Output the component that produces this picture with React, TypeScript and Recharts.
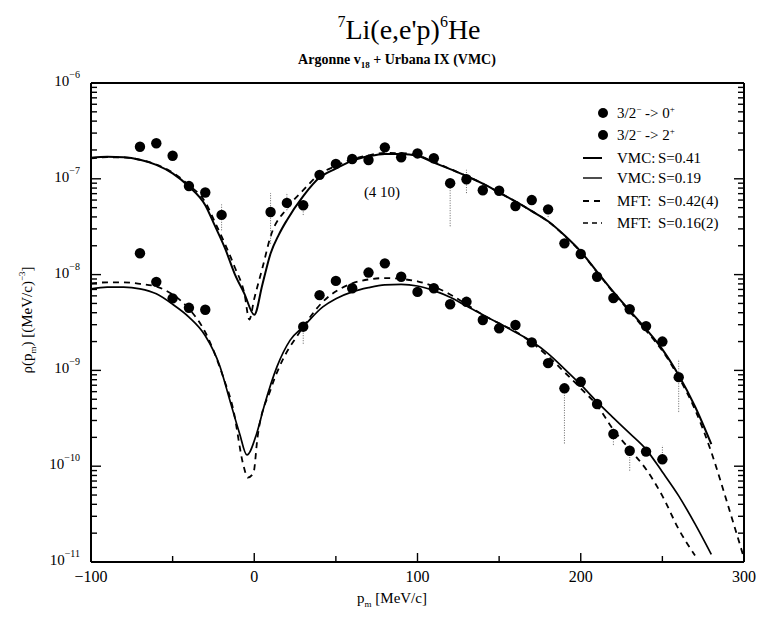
import React from 'react';
import { ComposedChart, Line, Scatter, XAxis, YAxis, ErrorBar, Legend } from 'recharts';

const W = 757;
const H = 617;
const FONT = '"Liberation Serif", "Times New Roman", serif';

// measured points, 3/2- -> 0+
const p0X = [-70, -60, -50, -40, -30, -20, 10, 20, 30, 40, 50, 60, 70, 80, 90, 100, 110, 120, 130, 140, 150, 160, 170, 180, 190, 200, 210, 220, 230, 240, 250, 260];
const p0Y = [2.16e-7, 2.35e-7, 1.74e-7, 8.4e-8, 7.2e-8, 4.2e-8, 4.5e-8, 5.6e-8, 5.3e-8, 1.1e-7, 1.43e-7, 1.61e-7, 1.57e-7, 2.13e-7, 1.68e-7, 1.84e-7, 1.64e-7, 9.0e-8, 9.9e-8, 7.6e-8, 7.5e-8, 5.2e-8, 6.0e-8, 4.8e-8, 2.12e-8, 1.64e-8, 9.5e-9, 5.7e-9, 4.35e-9, 2.9e-9, 2.0e-9, 8.5e-10];
// [x, lower error, upper error]
const p0Err: [number, number, number][] = [
  [-20, 1.3e-8, 1.2e-8], [10, 2.4e-8, 2.6e-8], [20, 0.9e-8, 1.5e-8], [30, 1.1e-8, 0.6e-8],
  [120, 5.8e-8, 1.0e-8], [130, 2.8e-8, 2.5e-8], [180, 0.8e-8, 0.4e-8], [260, 4.8e-10, 4.3e-10],
];

// measured points, 3/2- -> 2+
const p2X = [-70, -60, -50, -40, -30, 30, 40, 50, 60, 70, 80, 90, 100, 110, 120, 130, 140, 150, 160, 170, 180, 190, 200, 210, 220, 230, 240, 250];
const p2Y = [1.67e-8, 8.4e-9, 5.65e-9, 4.5e-9, 4.3e-9, 2.86e-9, 6.1e-9, 8.6e-9, 7.2e-9, 1.05e-8, 1.31e-8, 9.5e-9, 6.6e-9, 7.2e-9, 4.9e-9, 5.2e-9, 3.36e-9, 2.75e-9, 2.98e-9, 1.96e-9, 1.19e-9, 6.5e-10, 7.6e-10, 4.46e-10, 2.17e-10, 1.45e-10, 1.42e-10, 1.18e-10];
const p2Err: [number, number, number][] = [
  [30, 0.96e-9, 0.3e-9], [190, 4.77e-10, 0.5e-10], [220, 0.5e-10, 0.3e-10],
  [230, 0.55e-10, 0.2e-10], [250, 0.1e-10, 0.45e-10],
];

// theory curves [p_m, rho]
const vmc41: [number, number][] = [
  [-100, 1.66e-7], [-90, 1.7e-7], [-80, 1.68e-7], [-70, 1.58e-7], [-60, 1.4e-7], [-50, 1.14e-7], [-40, 8.3e-8],
  [-30, 5.3e-8], [-24, 3.2e-8], [-18, 1.9e-8], [-12, 1.02e-8], [-6, 6.3e-9], [0, 3.8e-9], [5, 7.9e-9], [10, 1.66e-8],
  [15, 2.6e-8], [20, 3.7e-8], [30, 6.6e-8], [40, 1.03e-7], [50, 1.28e-7], [60, 1.55e-7], [70, 1.72e-7], [80, 1.82e-7],
  [90, 1.82e-7], [100, 1.74e-7], [110, 1.48e-7], [120, 1.26e-7], [130, 1.07e-7], [140, 8.9e-8], [150, 7.2e-8],
  [160, 5.8e-8], [170, 4.6e-8], [180, 3.6e-8], [190, 2.57e-8], [200, 1.74e-8], [210, 1.07e-8], [220, 6.6e-9],
  [230, 4.2e-9], [240, 2.7e-9], [250, 1.66e-9], [260, 8.9e-10], [270, 4.2e-10], [280, 1.7e-10],
];
const vmc19: [number, number][] = [
  [-100, 7.1e-9], [-90, 7.4e-9], [-80, 7.4e-9], [-70, 7.1e-9], [-60, 6.3e-9], [-50, 4.9e-9], [-40, 3.6e-9],
  [-30, 2.3e-9], [-21, 1.1e-9], [-15, 4.9e-10], [-9, 2.2e-10], [-4.5, 1.31e-10], [1.5, 2.2e-10], [6, 4.2e-10],
  [14, 1.1e-9], [22, 2.07e-9], [30, 2.86e-9], [42, 4.6e-9], [50, 5.6e-9], [60, 6.6e-9], [70, 7.3e-9], [80, 7.8e-9],
  [90, 7.9e-9], [100, 7.6e-9], [110, 6.8e-9], [120, 5.8e-9], [130, 4.7e-9], [140, 3.8e-9], [150, 3.1e-9],
  [160, 2.5e-9], [170, 2.0e-9], [180, 1.5e-9], [190, 1.04e-9], [200, 7.1e-10], [210, 4.7e-10], [220, 3.2e-10],
  [230, 2.2e-10], [240, 1.5e-10], [250, 8.7e-11], [260, 4.9e-11], [270, 2.5e-11], [280, 1.2e-11],
];
const mft42: [number, number][] = [
  [-100, 1.63e-7], [-90, 1.68e-7], [-80, 1.67e-7], [-70, 1.58e-7], [-60, 1.41e-7], [-50, 1.16e-7], [-40, 8.6e-8],
  [-30, 5.7e-8], [-24, 3.5e-8], [-18, 2.1e-8], [-12, 1.2e-8], [-6, 6.3e-9], [-3, 3.4e-9], [0, 5.6e-9], [5, 1.17e-8],
  [10, 2.5e-8], [20, 4.9e-8], [30, 7.6e-8], [40, 1.12e-7], [50, 1.36e-7], [60, 1.6e-7], [70, 1.76e-7], [80, 1.86e-7],
  [90, 1.85e-7], [100, 1.76e-7], [110, 1.5e-7], [120, 1.27e-7], [130, 1.07e-7], [140, 8.9e-8], [150, 7.2e-8],
  [160, 5.8e-8], [170, 4.6e-8], [180, 3.6e-8], [190, 2.55e-8], [200, 1.72e-8], [210, 1.06e-8], [220, 6.5e-9],
  [230, 4.1e-9], [240, 2.6e-9], [250, 1.6e-9], [260, 8.5e-10], [270, 3.9e-10], [280, 1.4e-10], [290, 4.0e-11],
  [300, 1.1e-11],
];
const mft16: [number, number][] = [
  [-100, 8.1e-9], [-90, 8.3e-9], [-80, 8.3e-9], [-70, 8.0e-9], [-60, 7.5e-9], [-50, 6.2e-9], [-40, 4.4e-9],
  [-30, 2.5e-9], [-19, 8.5e-10], [-13, 4.0e-10], [-6.5, 1.0e-10], [-4, 7.6e-11], [-0.5, 8.5e-11], [2, 2.0e-10],
  [10, 6.3e-10], [18, 1.35e-9], [26, 2.25e-9], [42, 5.2e-9], [60, 8.1e-9], [70, 8.9e-9], [80, 9.2e-9], [90, 9.0e-9],
  [100, 8.5e-9], [110, 7.5e-9], [120, 6.2e-9], [130, 4.9e-9], [140, 3.8e-9], [150, 3.1e-9], [160, 2.55e-9],
  [170, 1.95e-9], [180, 1.4e-9], [190, 9.6e-10], [200, 6.5e-10], [210, 4.3e-10], [220, 2.4e-10], [230, 1.5e-10],
  [240, 9.3e-11], [250, 4.9e-11], [260, 2.2e-11], [270, 1.17e-11],
];

const xTicks = [-100, -50, 0, 50, 100, 150, 200, 250, 300];
const decades = [-11, -10, -9, -8, -7];
const yTicks: number[] = [];
decades.forEach((d) => {
  for (let m = 1; m <= 9; m++) yTicks.push(m * Math.pow(10, d));
});
yTicks.push(1e-6);

const toPts = (xs: number[], ys: number[], errs: [number, number, number][]) =>
  xs.map((x, i) => {
    const e = errs.find((r) => r[0] === x);
    return { x, y: ys[i], err: e ? [e[1], e[2]] : undefined };
  });
const toLine = (arr: [number, number][]) => arr.map(([x, y]) => ({ x, y }));

const pts0 = toPts(p0X, p0Y, p0Err);
const pts2 = toPts(p2X, p2Y, p2Err);

const tk = { stroke: '#000', strokeWidth: 1.4 };
const isMajor = (v: number) => {
  const l = Math.log10(v);
  return Math.abs(l - Math.round(l)) < 1e-6;
};
const fmtX = (v: number) => (v < 0 ? '\u2212' + Math.abs(v) : String(v));

const LeftTick = (p: any) => {
  const v = p.payload.value;
  const major = isMajor(v);
  const e = Math.round(Math.log10(v));
  return (
    <g>
      <line x1={p.x} x2={p.x + (major ? 10 : 6)} y1={p.y} y2={p.y} {...tk} />
      {major && (
        <text x={p.x - 11} y={p.y + 3} textAnchor="end" fontFamily={FONT} fontSize={15} fill="#000">
          10<tspan dy={-8} fontSize={10}>{'\u2212' + Math.abs(e)}</tspan>
        </text>
      )}
    </g>
  );
};
const RightTick = (p: any) => {
  const major = isMajor(p.payload.value);
  return <line x1={p.x} x2={p.x - (major ? 10 : 6)} y1={p.y} y2={p.y} {...tk} />;
};
const BottomTick = (p: any) => {
  const v = p.payload.value;
  const major = v % 100 === 0;
  return (
    <g>
      <line x1={p.x} x2={p.x} y1={p.y} y2={p.y - (major ? 9 : 6)} {...tk} />
      {major && (
        <text x={p.x} y={p.y + 20} textAnchor="middle" fontFamily={FONT} fontSize={16} fill="#000">
          {fmtX(v)}
        </text>
      )}
    </g>
  );
};
const TopTick = (p: any) => {
  const major = p.payload.value % 100 === 0;
  return <line x1={p.x} x2={p.x} y1={p.y} y2={p.y + (major ? 9 : 6)} {...tk} />;
};

const dot = (p: any) => <circle cx={p.cx} cy={p.cy} r={5.2} fill="#000" />;

const LegendBox = () => {
  const rowY = [15, 37, 60, 80, 103, 125];
  const tx = 42;
  const sx = 83;
  return (
    <svg width={175} height={135} style={{ display: 'block' }}>
      <g fontFamily={FONT} fontSize={15} fill="#000">
        <circle cx={28} cy={rowY[0]} r={5} fill="#000" />
        <text x={tx} y={rowY[0] + 5}>
          3/2<tspan dy={-6} fontSize={9}>{'\u2212'}</tspan>
          <tspan dy={6}>{' -> 0'}</tspan>
          <tspan dy={-6} fontSize={9}>+</tspan>
        </text>
        <circle cx={28} cy={rowY[1]} r={5} fill="#000" />
        <text x={tx} y={rowY[1] + 5}>
          3/2<tspan dy={-6} fontSize={9}>{'\u2212'}</tspan>
          <tspan dy={6}>{' -> 2'}</tspan>
          <tspan dy={-6} fontSize={9}>+</tspan>
        </text>
        <line x1={8} x2={27} y1={rowY[2]} y2={rowY[2]} stroke="#000" strokeWidth={2} />
        <text x={tx} y={rowY[2] + 5}>VMC:</text>
        <text x={sx} y={rowY[2] + 5}>S=0.41</text>
        <line x1={8} x2={27} y1={rowY[3]} y2={rowY[3]} stroke="#000" strokeWidth={1.4} />
        <text x={tx} y={rowY[3] + 5}>VMC:</text>
        <text x={sx} y={rowY[3] + 5}>S=0.19</text>
        <line x1={8} x2={27} y1={rowY[4]} y2={rowY[4]} stroke="#000" strokeWidth={1.8} strokeDasharray="6 5" />
        <text x={tx} y={rowY[4] + 5}>MFT:</text>
        <text x={sx} y={rowY[4] + 5}>S=0.42(4)</text>
        <line x1={8} x2={27} y1={rowY[5]} y2={rowY[5]} stroke="#000" strokeWidth={1.5} strokeDasharray="5 4" />
        <text x={tx} y={rowY[5] + 5}>MFT:</text>
        <text x={sx} y={rowY[5] + 5}>S=0.16(2)</text>
      </g>
    </svg>
  );
};

export default function App() {
  return (
    <div style={{ position: 'absolute', left: 0, top: 0, width: W, height: H, background: '#fff' }}>
      <ComposedChart width={W} height={H} margin={{ top: 82, right: 12, bottom: 5, left: 11 }}>
        <XAxis
          type="number"
          dataKey="x"
          domain={[-100, 300]}
          ticks={xTicks}
          interval={0}
          allowDataOverflow
          tick={(p: any) => <BottomTick {...p} />}
          tickLine={false}
          tickSize={0}
          tickMargin={0}
          height={50}
          axisLine={{ stroke: '#000', strokeWidth: 2 }}
        />
        <XAxis
          xAxisId="top"
          orientation="top"
          type="number"
          domain={[-100, 300]}
          ticks={xTicks}
          interval={0}
          allowDataOverflow
          tick={(p: any) => <TopTick {...p} />}
          tickLine={false}
          tickSize={0}
          tickMargin={0}
          height={1}
          axisLine={{ stroke: '#000', strokeWidth: 2 }}
        />
        <YAxis
          type="number"
          dataKey="y"
          scale="log"
          domain={[1e-11, 1e-6]}
          ticks={yTicks}
          interval={0}
          allowDataOverflow
          tick={(p: any) => <LeftTick {...p} />}
          tickLine={false}
          tickSize={0}
          tickMargin={0}
          width={80}
          axisLine={{ stroke: '#000', strokeWidth: 2 }}
        />
        <YAxis
          yAxisId="right"
          orientation="right"
          type="number"
          scale="log"
          domain={[1e-11, 1e-6]}
          ticks={yTicks}
          interval={0}
          allowDataOverflow
          tick={(p: any) => <RightTick {...p} />}
          tickLine={false}
          tickSize={0}
          tickMargin={0}
          width={1}
          axisLine={{ stroke: '#000', strokeWidth: 2 }}
        />
        <Legend
          layout="vertical"
          align="center"
          verticalAlign="middle"
          wrapperStyle={{ left: 575, top: 98, width: 175 }}
          content={() => <LegendBox />}
        />
        <Line data={toLine(vmc41)} dataKey="y" name="VMC: S=0.41" type="monotone" stroke="#000" strokeWidth={2} dot={false} isAnimationActive={false} />
        <Line data={toLine(vmc19)} dataKey="y" name="VMC: S=0.19" type="monotone" stroke="#000" strokeWidth={1.7} dot={false} isAnimationActive={false} />
        <Line data={toLine(mft42)} dataKey="y" name="MFT: S=0.42(4)" type="monotone" stroke="#000" strokeWidth={1.8} strokeDasharray="6 5" dot={false} isAnimationActive={false} />
        <Line data={toLine(mft16)} dataKey="y" name="MFT: S=0.16(2)" type="monotone" stroke="#000" strokeWidth={1.8} strokeDasharray="6 5" dot={false} isAnimationActive={false} />
        <Scatter data={pts0} dataKey="y" name="3/2- -> 0+" fill="#000" shape={dot} isAnimationActive={false}>
          <ErrorBar dataKey="err" direction="y" width={0} stroke="#666" strokeWidth={1} strokeDasharray="1 1.5" />
        </Scatter>
        <Scatter data={pts2} dataKey="y" name="3/2- -> 2+" fill="#000" shape={dot} isAnimationActive={false}>
          <ErrorBar dataKey="err" direction="y" width={0} stroke="#666" strokeWidth={1} strokeDasharray="1 1.5" />
        </Scatter>
      </ComposedChart>
      <svg width={W} height={H} style={{ position: 'absolute', left: 0, top: 0, pointerEvents: 'none' }}>
        <g fontFamily={FONT} fill="#000">
          <text x={409} y={39} textAnchor="middle" fontSize={28}>
            <tspan fontSize={16} dy={-12}>7</tspan>
            <tspan dy={12}>Li(e,e'p)</tspan>
            <tspan fontSize={16} dy={-12}>6</tspan>
            <tspan dy={12}>He</tspan>
          </text>
          <text x={397} y={64} textAnchor="middle" fontSize={14} fontWeight="bold">
            Argonne v<tspan fontSize={9} dy={4}>18</tspan>
            <tspan dy={-4}> + Urbana IX (VMC)</tspan>
          </text>
          <text x={382} y={197} textAnchor="middle" fontSize={15}>(4 10)</text>
          <text x={392} y={603} textAnchor="middle" fontSize={15}>
            p<tspan fontSize={9} dy={4}>m</tspan>
            <tspan dy={-4}> [MeV/c]</tspan>
          </text>
          <text transform="translate(32,320) rotate(-90)" textAnchor="middle" fontSize={15}>
            {'\u03c1(p'}<tspan fontSize={9} dy={4}>m</tspan>
            <tspan dy={-4}>) [(MeV/c)</tspan>
            <tspan fontSize={9} dy={-7}>{'\u22123'}</tspan>
            <tspan dy={7}>]</tspan>
          </text>
        </g>
      </svg>
    </div>
  );
}
